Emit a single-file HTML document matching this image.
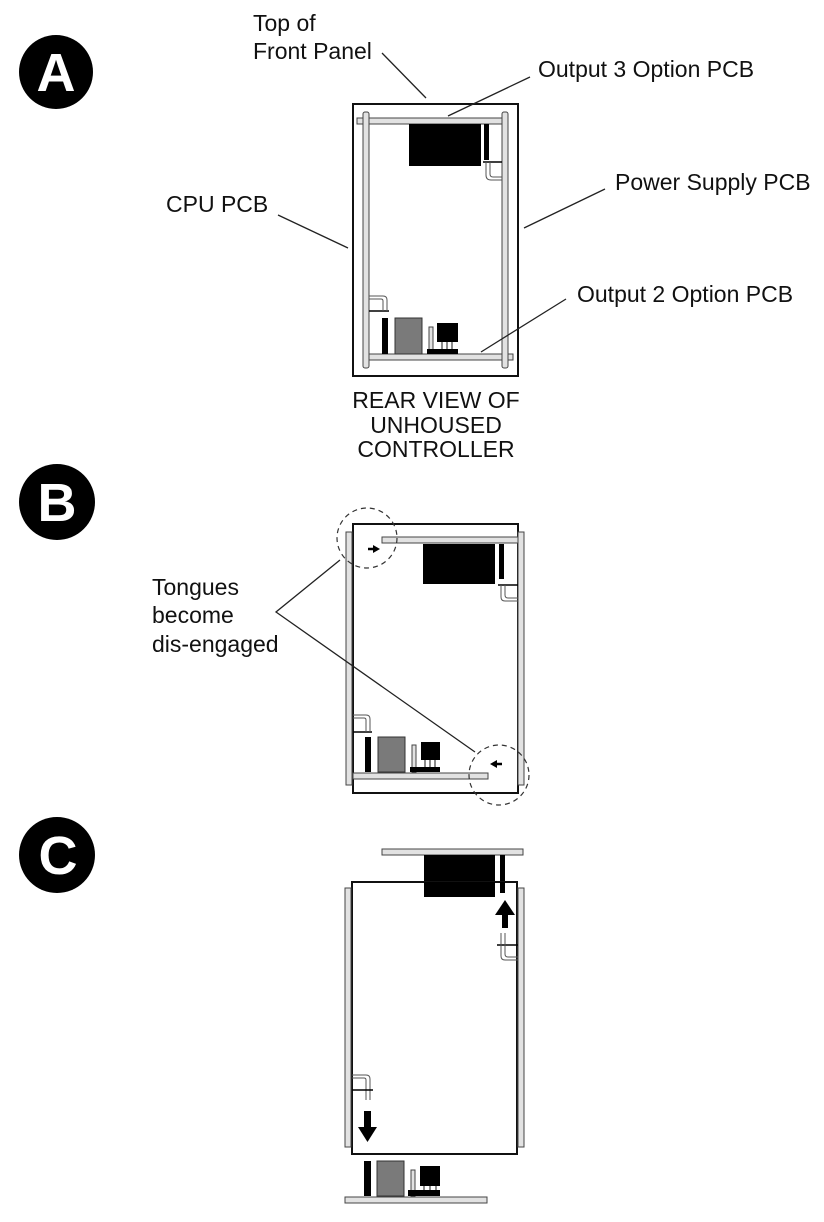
<!DOCTYPE html>
<html><head><meta charset="utf-8"><style>
html,body{margin:0;padding:0;background:#fff;}
svg{display:block;}
text{font-family:"Liberation Sans",Arial,sans-serif;fill:#111;}
</style></head><body>
<svg width="824" height="1222" viewBox="0 0 824 1222" xmlns="http://www.w3.org/2000/svg">
<defs>
<style>
.rail{fill:#e2e2e2;stroke:#444;stroke-width:1;}
.box{fill:#fff;stroke:#111;stroke-width:2;}
.ln{stroke:#222;stroke-width:1.3;fill:none;}
.pipe{stroke:#555;stroke-width:1;fill:none;}
.lbl{font-size:23px;}
</style>
</defs>

<circle cx="56" cy="72" r="37" fill="#000"/>
<text x="56" y="91" text-anchor="middle" font-size="54" font-weight="bold" style="fill:#fff">A</text>
<circle cx="57" cy="502" r="38" fill="#000"/>
<text x="57" y="521" text-anchor="middle" font-size="54" font-weight="bold" style="fill:#fff">B</text>
<circle cx="57" cy="855" r="38" fill="#000"/>
<text x="58" y="874" text-anchor="middle" font-size="54" font-weight="bold" style="fill:#fff">C</text>

<!-- ===== Panel A ===== -->
<rect class="box" x="353" y="104" width="165" height="272"/>
<rect class="rail" x="357" y="118" width="148" height="6"/>
<rect class="rail" x="366" y="354" width="147" height="6"/>
<rect class="rail" x="363" y="112" width="6" height="256" rx="2"/>
<rect class="rail" x="502" y="112" width="6" height="256" rx="2"/>
<rect x="409" y="124" width="72" height="42" fill="#000"/>
<rect x="484" y="124" width="5" height="36" fill="#000"/>
<line x1="483" y1="162" x2="502" y2="162" stroke="#000" stroke-width="1.5"/>
<path class="pipe" d="M486 162 V175 Q486 180 491 180 H502 M490 162 V174 Q490 177 493 177 H502"/>
<rect x="382" y="318" width="6" height="36" fill="#000"/>
<line x1="369" y1="311" x2="389" y2="311" stroke="#000" stroke-width="1.5"/>
<path class="pipe" d="M369 296 H383 Q387 296 387 300 V311 M369 299 H381 Q383 299 383 301 V311"/>
<rect x="395" y="318" width="27" height="36" fill="#7a7a7a" stroke="#333" stroke-width="1"/>
<rect x="429" y="327" width="4" height="27" fill="#e2e2e2" stroke="#444" stroke-width="1"/>
<rect x="437" y="323" width="21" height="19" fill="#000"/>
<path d="M442 342 V349 M447 342 V349 M452 342 V349" stroke="#666" stroke-width="1.5"/>
<rect x="427" y="349" width="31" height="5" fill="#000"/>

<text class="lbl" x="253" y="31">Top of</text>
<text class="lbl" x="253" y="59">Front Panel</text>
<line class="ln" x1="382" y1="53" x2="426" y2="98"/>
<text class="lbl" x="538" y="77">Output 3 Option PCB</text>
<line class="ln" x1="530" y1="77" x2="448" y2="116"/>
<text class="lbl" x="615" y="190">Power Supply PCB</text>
<line class="ln" x1="605" y1="189" x2="524" y2="228"/>
<text class="lbl" x="166" y="212">CPU PCB</text>
<line class="ln" x1="278" y1="215" x2="348" y2="248"/>
<text class="lbl" x="577" y="302">Output 2 Option PCB</text>
<line class="ln" x1="566" y1="299" x2="481" y2="352"/>
<text class="lbl" x="436" y="408" text-anchor="middle">REAR VIEW OF</text>
<text class="lbl" x="436" y="433" text-anchor="middle">UNHOUSED</text>
<text class="lbl" x="436" y="457" text-anchor="middle">CONTROLLER</text>

<!-- ===== Panel B ===== -->
<rect class="box" x="353" y="524" width="165" height="269"/>
<rect class="rail" x="346" y="532" width="6" height="253"/>
<rect class="rail" x="518" y="532" width="6" height="253"/>
<rect class="rail" x="382" y="537" width="136" height="6"/>
<rect x="423" y="544" width="72" height="40" fill="#000"/>
<rect x="499" y="544" width="5" height="35" fill="#000"/>
<line x1="498" y1="585" x2="518" y2="585" stroke="#000" stroke-width="1.5"/>
<path class="pipe" d="M501 585 V597 Q501 601 505 601 H518 M505 585 V595 Q505 598 508 598 H518"/>
<rect class="rail" x="353" y="773" width="135" height="6"/>
<rect x="365" y="737" width="6" height="35" fill="#000"/>
<line x1="353" y1="732" x2="372" y2="732" stroke="#000" stroke-width="1.5"/>
<path class="pipe" d="M353 715 H366 Q370 715 370 719 V732 M353 718 H364 Q366 718 366 720 V732"/>
<rect x="378" y="737" width="27" height="35" fill="#7a7a7a" stroke="#333" stroke-width="1"/>
<rect x="412" y="745" width="4" height="27" fill="#e2e2e2" stroke="#444" stroke-width="1"/>
<rect x="421" y="742" width="19" height="18" fill="#000"/>
<path d="M425 760 V767 M430 760 V767 M435 760 V767" stroke="#666" stroke-width="1.5"/>
<rect x="410" y="767" width="30" height="5" fill="#000"/>
<circle cx="367" cy="538" r="30" fill="none" stroke="#333" stroke-width="1.2" stroke-dasharray="5,4"/>
<circle cx="499" cy="775" r="30" fill="none" stroke="#333" stroke-width="1.2" stroke-dasharray="5,4"/>
<path d="M368 549 H374" stroke="#000" stroke-width="2.5"/>
<path d="M373 545 L380 549 L373 553 Z" fill="#000"/>
<path d="M496 764 H502" stroke="#000" stroke-width="2.5"/>
<path d="M497 760 L490 764 L497 768 Z" fill="#000"/>
<text class="lbl" x="152" y="595">Tongues</text>
<text class="lbl" x="152" y="623">become</text>
<text class="lbl" x="152" y="652">dis-engaged</text>
<path class="ln" d="M340 560 L276 612 L475 752"/>

<!-- ===== Panel C ===== -->
<rect class="rail" x="382" y="849" width="141" height="6"/>
<rect x="424" y="855" width="71" height="42" fill="#000"/>
<rect x="500" y="855" width="5" height="38" fill="#000"/>
<rect class="box" x="352" y="882" width="165" height="272" style="fill:none"/>
<rect x="424" y="882" width="71" height="15" fill="#000"/>
<rect x="500" y="882" width="5" height="11" fill="#000"/>
<rect class="rail" x="345" y="888" width="6" height="259"/>
<rect class="rail" x="518" y="888" width="6" height="259"/>
<path d="M495 915 L505 900 L515 915 Z" fill="#000"/>
<rect x="502" y="914" width="6" height="14" fill="#000"/>
<line x1="497" y1="945" x2="518" y2="945" stroke="#000" stroke-width="1.5"/>
<path class="pipe" d="M501 933 V956 Q501 960 505 960 H518 M505 933 V954 Q505 957 508 957 H518"/>
<path class="pipe" d="M352 1075 H366 Q370 1075 370 1079 V1100 M352 1078 H364 Q366 1078 366 1080 V1100"/>
<line x1="352" y1="1090" x2="373" y2="1090" stroke="#000" stroke-width="1.5"/>
<rect x="364" y="1111" width="7" height="17" fill="#000"/>
<path d="M358 1127 L367.5 1142 L377 1127 Z" fill="#000"/>
<rect x="364" y="1161" width="7" height="35" fill="#000"/>
<rect x="377" y="1161" width="27" height="35" fill="#7a7a7a" stroke="#333" stroke-width="1"/>
<rect x="411" y="1170" width="4" height="26" fill="#e2e2e2" stroke="#444" stroke-width="1"/>
<rect x="420" y="1166" width="20" height="20" fill="#000"/>
<path d="M424 1186 V1191 M430 1186 V1191 M436 1186 V1191" stroke="#666" stroke-width="1.5"/>
<rect x="408" y="1190" width="32" height="6" fill="#000"/>
<rect class="rail" x="345" y="1197" width="142" height="6"/>
</svg>
</body></html>
